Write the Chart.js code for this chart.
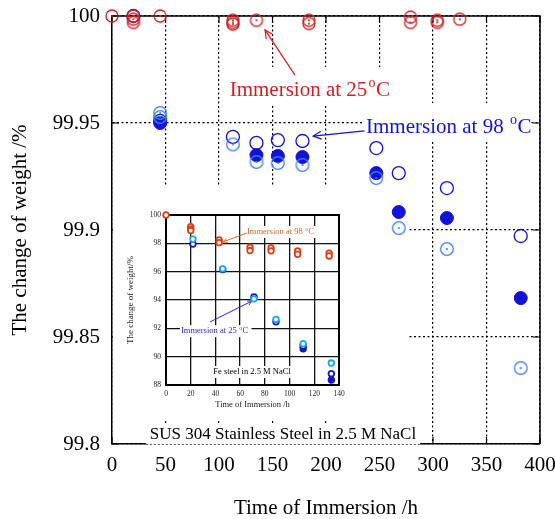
<!DOCTYPE html>
<html>
<head>
<meta charset="utf-8">
<script src="https://cdn.jsdelivr.net/npm/chart.js@4.4.0/dist/chart.umd.min.js"></script>
<style>
  html, body { margin: 0; padding: 0; background: #fff; }
  #wrap { position: relative; width: 555px; height: 519px; }
  #mainChart { position: absolute; left: 0; top: 0; }
  #insetChart { position: absolute; left: 113px; top: 187px; background: #fff; }
</style>
</head>
<body>
<div id="wrap">
  <canvas id="mainChart" width="555" height="519"></canvas>
  <canvas id="insetChart" width="232" height="233"></canvas>
</div>
<script>
// ---- main plot: SUS 304 (hours, weight %) ----
const xTicks = [0, 50, 100, 150, 200, 250, 300, 350, 400];
const yTicks = [99.8, 99.85, 99.9, 99.95, 100];

// immersion at 25 °C (red rings with dot)
const red25X = [0, 20, 20, 20, 45, 113, 113, 113, 135, 184, 184, 279, 279, 304, 304, 325];
const red25Y = [100, 100, 99.9985, 99.997, 100, 99.998, 99.997, 99.9962, 99.998, 99.998, 99.9965, 99.9995, 99.997, 99.998, 99.997, 99.9985];

// immersion at 98 °C, three specimens
const blueOpenX = [20, 45, 113, 135, 155, 178, 247, 268, 313, 382];
const blueOpenY = [100, 99.951, 99.9435, 99.9407, 99.942, 99.9416, 99.9383, 99.9266, 99.9196, 99.8972];
const blueFillX = [45, 135, 155, 178, 247, 268, 313, 382];
const blueFillY = [99.950, 99.935, 99.9346, 99.9341, 99.9266, 99.9084, 99.9056, 99.8682];
const blueDotX = [45, 45, 113, 135, 155, 178, 247, 268, 313, 382];
const blueDotY = [99.9547, 99.9528, 99.940, 99.9318, 99.9313, 99.9304, 99.9243, 99.9009, 99.8911, 99.8355];

// ---- inset: Fe steel ----
const insetXTicks = [0, 20, 40, 60, 80, 100, 120, 140];
const insetYTicks = [88, 90, 92, 94, 96, 98, 100];
const fe98X = [0, 20, 20, 20, 43, 43, 68, 68, 85, 85, 106.5, 106.5, 132, 132];
const fe98Y = [100, 99.18, 99.01, 98.9, 98.24, 98.05, 97.72, 97.49, 97.67, 97.47, 97.46, 97.23, 97.3, 97.11];
const fe25CyanX = [21.8, 45.9, 71.2, 89, 111, 133.8];
const fe25CyanY = [98.3, 96.2, 94.08, 92.63, 90.91, 89.55];
const fe25OpenX = [21.8, 45.9, 71.2, 89, 111, 133.8];
const fe25OpenY = [97.95, 96.15, 94.22, 92.46, 90.75, 88.8];
const fe25FillX = [111, 133.8];
const fe25FillY = [90.56, 88.35];

const SERIF = '"Liberation Serif", "Times New Roman", serif';
const RED = '#cc2222';
const BLUE = '#1212d8';
const LIGHT = '#3c80ff';

const zip = (xs, ys) => xs.map((x, i) => ({ x, y: ys[i] }));

// scales should not push the plot area around for their end labels
const noPad = s => { s.paddingTop = 0; s.paddingBottom = 0; s.paddingLeft = 0; s.paddingRight = 0; };

// ring with a small centre dot, used as pointStyle
function ringDot(color, r, lw, dot) {
    const c = document.createElement('canvas');
    const s = Math.ceil(2 * r + lw + 2);
    c.width = c.height = s;
    const g = c.getContext('2d');
    g.strokeStyle = color;
    g.lineWidth = lw;
    g.beginPath(); g.arc(s / 2, s / 2, r, 0, Math.PI * 2); g.stroke();
    g.fillStyle = color;
    g.beginPath(); g.arc(s / 2, s / 2, dot, 0, Math.PI * 2); g.fill();
    return c;
}

function supText(ctx, px, py, parts, size, color) {
    ctx.fillStyle = color;
    ctx.textBaseline = 'middle';
    ctx.textAlign = 'left';
    ctx.font = size + 'px ' + SERIF;
    ctx.fillText(parts[0], px, py);
    let w = ctx.measureText(parts[0]).width + size * 0.05;
    ctx.font = Math.round(size * 0.65) + 'px ' + SERIF;
    ctx.fillText(parts[1], px + w, py - size * 0.36);
    w += ctx.measureText(parts[1]).width + size * 0.03;
    ctx.font = size + 'px ' + SERIF;
    ctx.fillText(parts[2], px + w, py);
    return w + ctx.measureText(parts[2]).width;
}

function arrow(ctx, x1, y1, x2, y2, color, head, lw) {
    ctx.strokeStyle = color;
    ctx.lineWidth = lw;
    ctx.beginPath(); ctx.moveTo(x1, y1); ctx.lineTo(x2, y2); ctx.stroke();
    const a = Math.atan2(y2 - y1, x2 - x1);
    ctx.beginPath();
    ctx.moveTo(x2 - head * Math.cos(a - 0.45), y2 - head * Math.sin(a - 0.45));
    ctx.lineTo(x2, y2);
    ctx.lineTo(x2 - head * Math.cos(a + 0.45), y2 - head * Math.sin(a + 0.45));
    ctx.stroke();
}

// white areas of the original figure that hide the dotted grid (data coords: x0, x1, y0, y1)
const mainMasks = [
    [106, 269, 99.9584, 99.9762],
    [234, 392, 99.9411, 99.9593],
    [218, 277, 99.8, 99.9411]
];
const mainNotes = [
    { at: [110, 99.965], parts: ['Immersion at 25', 'o', 'C'], color: RED, from: [171, 99.9724], to: [143, 99.9935] },
    { at: [237.4, 99.9477], parts: ['Immersion at 98 ', 'o', 'C'], color: BLUE, from: [236, 99.9463], to: [188, 99.9439] }
];
const mainCaption = { at: [159.8, 99.8042], text: 'SUS 304 Stainless Steel in 2.5 M NaCl' };

const mainOverlay = {
    id: 'mainOverlay',
    beforeDatasetsDraw(chart) {
        const { ctx, chartArea: a, scales: { x, y } } = chart;
        ctx.save();
        ctx.fillStyle = '#fff';
        mainMasks.forEach(m => {
            const l = x.getPixelForValue(m[0]), r = x.getPixelForValue(m[1]);
            const t = y.getPixelForValue(m[3]), b = y.getPixelForValue(m[2]);
            ctx.fillRect(l, t, r - l, b - t);
        });

        // frame + inward ticks
        ctx.strokeStyle = '#000';
        ctx.lineWidth = 1.5;
        ctx.beginPath();
        ctx.moveTo(a.left, a.top); ctx.lineTo(a.right, a.top); ctx.lineTo(a.right, a.bottom);
        ctx.stroke();
        ctx.lineWidth = 1.2;
        yTicks.forEach(v => {
            const py = y.getPixelForValue(v);
            ctx.beginPath();
            ctx.moveTo(a.left, py); ctx.lineTo(a.left + 7, py);
            ctx.moveTo(a.right, py); ctx.lineTo(a.right - 7, py);
            ctx.stroke();
        });
        xTicks.forEach(v => {
            const px = x.getPixelForValue(v);
            ctx.beginPath();
            ctx.moveTo(px, a.bottom); ctx.lineTo(px, a.bottom - 7);
            ctx.moveTo(px, a.top); ctx.lineTo(px, a.top + 7);
            ctx.stroke();
        });

        // caption sitting on the bottom axis
        ctx.font = '17px ' + SERIF;
        const cw = ctx.measureText(mainCaption.text).width;
        const cx = x.getPixelForValue(mainCaption.at[0]);
        const cy = y.getPixelForValue(mainCaption.at[1]);
        ctx.fillStyle = '#fff';
        ctx.fillRect(cx - cw / 2 - 4, cy - 11, cw + 8, a.bottom - cy + 13);
        ctx.strokeStyle = '#555';
        ctx.lineWidth = 1;
        ctx.setLineDash([2, 2]);
        ctx.beginPath();
        ctx.moveTo(cx - cw / 2 - 4, a.bottom + 0.5); ctx.lineTo(cx + cw / 2 + 4, a.bottom + 0.5);
        ctx.stroke();
        ctx.setLineDash([]);
        ctx.fillStyle = '#000';
        ctx.textAlign = 'center';
        ctx.textBaseline = 'middle';
        ctx.fillText(mainCaption.text, cx, cy);

        mainNotes.forEach(n => {
            supText(ctx, x.getPixelForValue(n.at[0]), y.getPixelForValue(n.at[1]), n.parts, 21, n.color);
            arrow(ctx, x.getPixelForValue(n.from[0]), y.getPixelForValue(n.from[1]),
                x.getPixelForValue(n.to[0]), y.getPixelForValue(n.to[1]), n.color, 9, 1.2);
        });
        ctx.restore();
    }
};

new Chart(document.getElementById('mainChart'), {
    type: 'scatter',
    data: {
        datasets: [
            { label: '25 °C', data: zip(red25X, red25Y), pointStyle: ringDot(RED, 6, 1.3, 1.1), pointRadius: 6 },
            { label: '98 °C (c)', data: zip(blueDotX, blueDotY), pointStyle: ringDot(LIGHT, 6.3, 1.3, 1.1), pointRadius: 6.3 },
            { label: '98 °C (b)', data: zip(blueFillX, blueFillY), pointStyle: 'circle', pointRadius: 6.5,
              backgroundColor: BLUE, borderColor: BLUE, borderWidth: 1 },
            { label: '98 °C (a)', data: zip(blueOpenX, blueOpenY), pointStyle: 'circle', pointRadius: 6.5,
              backgroundColor: 'rgba(0,0,0,0)', borderColor: BLUE, borderWidth: 1.3 }
        ]
    },
    options: {
        responsive: false,
        animation: false,
        clip: false,
        layout: { autoPadding: false, padding: { top: 16, right: 15, left: 0, bottom: 0 } },
        plugins: { legend: { display: false }, tooltip: { enabled: false } },
        scales: {
            x: {
                type: 'linear', min: 0, max: 400,
                afterBuildTicks: s => { s.ticks = xTicks.map(v => ({ value: v })); },
                afterFit: s => { s.height = 75; noPad(s); },
                grid: { color: '#000', lineWidth: 1.2, drawTicks: false },
                border: { color: '#000', width: 1.5, dash: [2, 2.5] },
                ticks: { color: '#000', font: { family: SERIF, size: 21 }, padding: 9, maxRotation: 0, autoSkip: false,
                         callback: v => String(v) },
                title: { display: true, text: 'Time of Immersion /h', color: '#000',
                         font: { family: SERIF, size: 21, lineHeight: 1 }, padding: { top: 0, bottom: 0 } }
            },
            y: {
                type: 'linear', min: 99.8, max: 100,
                afterBuildTicks: s => { s.ticks = yTicks.map(v => ({ value: v })); },
                afterFit: s => { s.width = 112; noPad(s); },
                grid: { color: '#000', lineWidth: 1.2, drawTicks: false },
                border: { color: '#000', width: 1.5, dash: [2, 2.5] },
                ticks: { color: '#000', font: { family: SERIF, size: 21 }, padding: 12, callback: v => String(+v.toFixed(2)) },
                title: { display: true, text: 'The change of weight /%', color: '#000',
                         font: { family: SERIF, size: 21, lineHeight: 1 }, padding: { top: 10, bottom: 0 } }
            }
        }
    },
    plugins: [mainOverlay]
});

// ---- inset ----
const insetNotes = [
    { at: [65.5, 98.8], parts: ['Immersion at 98 ', 'o', 'C'], color: '#e0662a', from: [65.5, 98.73], to: [46, 98.1] },
    { at: [12.1, 91.8], parts: ['Immersion at 25 ', 'o', 'C'], color: '#2a2ad6', from: [35.6, 92.45], to: [69.6, 93.93] }
];
const insetCaption = { at: [69.6, 88.92], text: 'Fe steel in 2.5 M NaCl' };

const insetOverlay = {
    id: 'insetOverlay',
    beforeDatasetsDraw(chart) {
        const { ctx, chartArea: a, scales: { x, y } } = chart;
        ctx.save();
        ctx.strokeStyle = '#000';
        ctx.lineWidth = 2;
        ctx.strokeRect(a.left, a.top, a.right - a.left, a.bottom - a.top);

        insetNotes.forEach(n => {
            const px = x.getPixelForValue(n.at[0]), py = y.getPixelForValue(n.at[1]);
            ctx.font = '8.5px ' + SERIF;
            const w = ctx.measureText(n.parts[0] + n.parts[2]).width + 6;
            ctx.fillStyle = '#fff';
            ctx.fillRect(px - 1, py - 6, w + 2, 12);
            supText(ctx, px, py, n.parts, 8.5, n.color);
            arrow(ctx, x.getPixelForValue(n.from[0]), y.getPixelForValue(n.from[1]),
                x.getPixelForValue(n.to[0]), y.getPixelForValue(n.to[1]), n.color, 5, 1);
        });

        ctx.font = '8.5px ' + SERIF;
        const cw = ctx.measureText(insetCaption.text).width;
        const cx = x.getPixelForValue(insetCaption.at[0]), cy = y.getPixelForValue(insetCaption.at[1]);
        ctx.fillStyle = '#fff';
        ctx.fillRect(cx - cw / 2 - 2, cy - 6, cw + 4, 12);
        ctx.fillStyle = '#000';
        ctx.textAlign = 'center';
        ctx.textBaseline = 'middle';
        ctx.fillText(insetCaption.text, cx, cy);
        ctx.restore();
    }
};

const ring = (color, fill) => ({
    pointStyle: 'circle', pointRadius: 2.8, borderWidth: 1.8,
    borderColor: color, backgroundColor: fill ? color : '#fff'
});

new Chart(document.getElementById('insetChart'), {
    type: 'scatter',
    data: {
        datasets: [
            Object.assign({ label: 'Fe 98 °C', data: zip(fe98X, fe98Y) }, ring('#d8401c', false)),
            Object.assign({ label: 'Fe 25 °C (c)', data: zip(fe25CyanX, fe25CyanY) }, ring('#1aa6ee', false)),
            Object.assign({ label: 'Fe 25 °C (a)', data: zip(fe25OpenX, fe25OpenY) }, ring('#1616c8', false)),
            Object.assign({ label: 'Fe 25 °C (b)', data: zip(fe25FillX, fe25FillY) }, ring('#1616c8', true))
        ]
    },
    options: {
        responsive: false,
        animation: false,
        clip: false,
        layout: { autoPadding: false, padding: { top: 28, right: 6, left: 0, bottom: 0 } },
        plugins: { legend: { display: false }, tooltip: { enabled: false } },
        scales: {
            x: {
                type: 'linear', min: 0, max: 140,
                afterBuildTicks: s => { s.ticks = insetXTicks.map(v => ({ value: v })); },
                afterFit: s => { s.height = 35; noPad(s); },
                grid: { color: '#111', lineWidth: 1.3, drawTicks: false },
                border: { color: '#000', width: 2 },
                ticks: { color: '#222', font: { family: SERIF, size: 7.5 }, padding: 5, maxRotation: 0, autoSkip: false },
                title: { display: true, text: 'Time of Immersion /h', color: '#222',
                         font: { family: SERIF, size: 8.5, lineHeight: 1.2 }, padding: { top: 0, bottom: 10 } }
            },
            y: {
                type: 'linear', min: 88, max: 100,
                afterBuildTicks: s => { s.ticks = insetYTicks.map(v => ({ value: v })); },
                afterFit: s => { s.width = 53; noPad(s); },
                grid: { color: '#111', lineWidth: 1.3, drawTicks: false },
                border: { color: '#000', width: 2 },
                ticks: { color: '#222', font: { family: SERIF, size: 7.5 }, padding: 5 },
                title: { display: true, text: 'The change of weight/%', color: '#222',
                         font: { family: SERIF, size: 9, lineHeight: 1.2 }, padding: { top: 12, bottom: 0 } }
            }
        }
    },
    plugins: [insetOverlay]
});
</script>
</body>
</html>
